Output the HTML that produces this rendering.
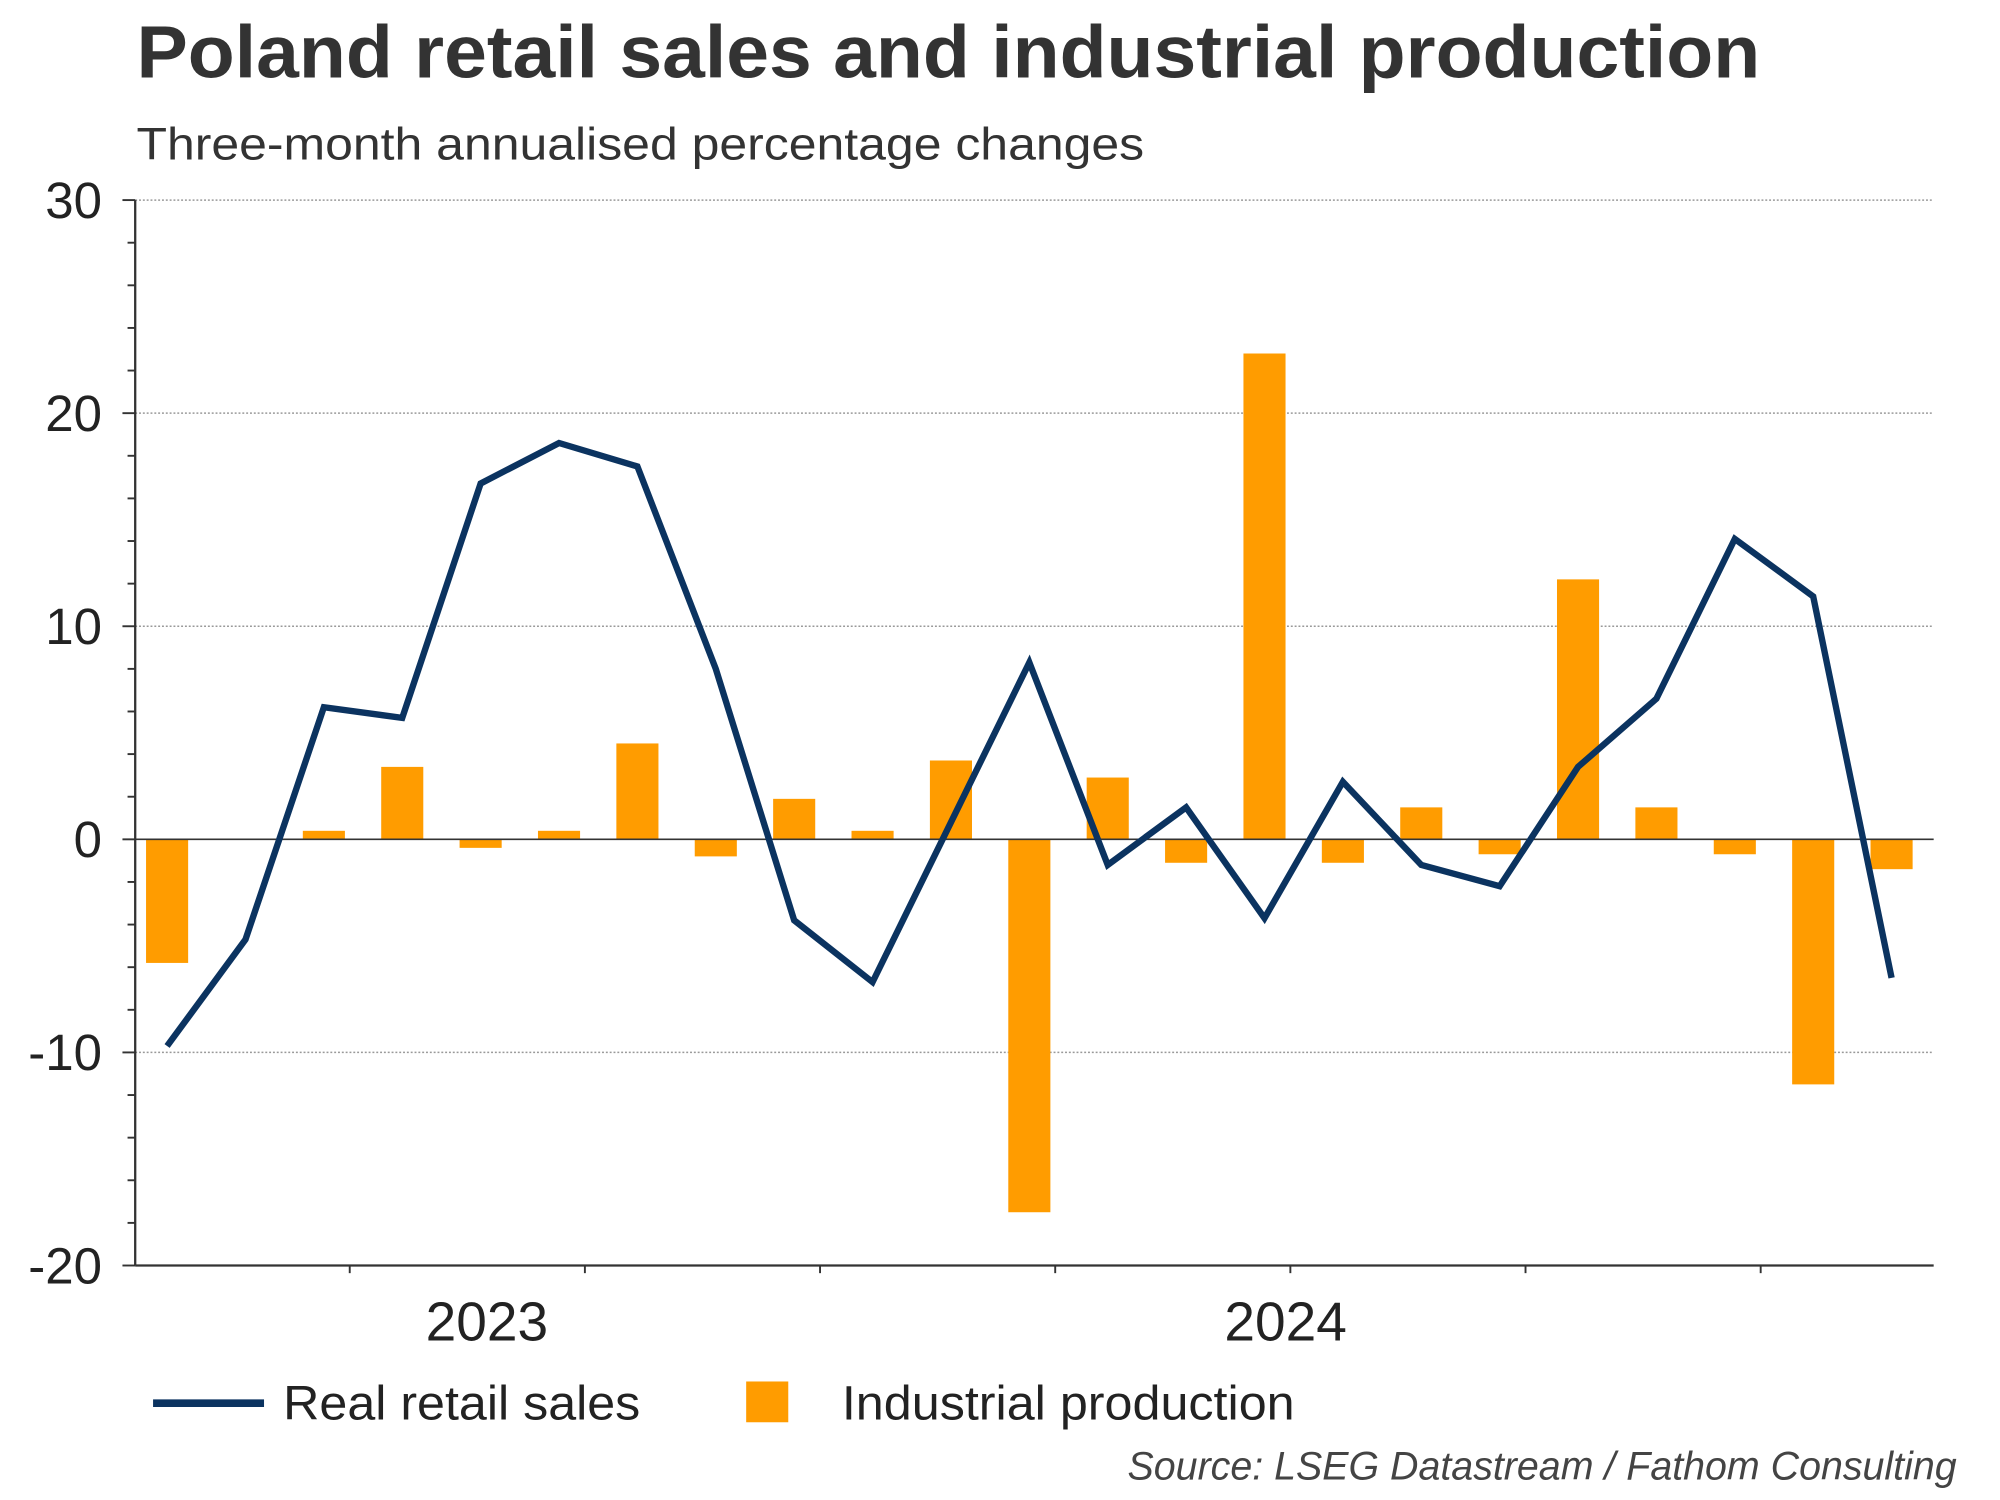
<!DOCTYPE html>
<html><head><meta charset="utf-8"><style>
html,body{margin:0;padding:0;background:#fff;}
svg{display:block;}
text{font-family:"Liberation Sans",Arial,sans-serif;}
</style></head>
<body>
<svg id="chart" width="2000" height="1500" viewBox="0 0 1568 1177" preserveAspectRatio="none" xmlns="http://www.w3.org/2000/svg">
<text x="107" y="61" font-size="58" font-weight="bold" fill="#333" textLength="1273" lengthAdjust="spacingAndGlyphs">Poland retail sales and industrial production</text>
<text x="107" y="125" font-size="36" fill="#333" textLength="790" lengthAdjust="spacingAndGlyphs">Three-month annualised percentage changes</text>
<g id="grid"></g>
<g id="bars"></g>
<g id="axes"></g>
<g id="lines"></g>
<g>
<line x1="120" y1="1101" x2="207" y2="1101" stroke="#0b3360" stroke-width="6"/>
<text x="222" y="1114" font-size="38" fill="#222" textLength="280" lengthAdjust="spacingAndGlyphs">Real retail sales</text>
<rect x="585" y="1084" width="33" height="32" fill="#ff9c00"/>
<text x="660" y="1114" font-size="38" fill="#222" textLength="355" lengthAdjust="spacingAndGlyphs">Industrial production</text>
</g>
<text x="884" y="1161" font-size="31" font-style="italic" fill="#444" textLength="650" lengthAdjust="spacingAndGlyphs">Source: LSEG Datastream / Fathom Consulting</text>
</svg>
<script>
const retailSales = [-9.7,-4.7,6.2,5.7,16.7,18.6,17.5,8.0,-3.8,-6.7,0.8,8.3,-1.2,1.5,-3.7,2.7,-1.2,-2.2,3.4,6.6,14.1,11.4,-6.5];
const industrialProduction = [-5.8,0,0.4,3.4,-0.4,0.4,4.5,-0.8,1.9,0.4,3.7,-17.5,2.9,-1.1,22.8,-1.1,1.5,-0.7,12.2,1.5,-0.7,-11.5,-1.4];
const yTicks = [30,20,10,0,-10,-20];
const yearLabels = ["2023","2024"];
const yearIndex = [4.08,14.27];

const NS="http://www.w3.org/2000/svg";
const X0=106,X1=1516,Y0=993,Y1=157,YMIN=-20,YMAX=30;
function y(v){return Y0-(v-YMIN)/(YMAX-YMIN)*(Y0-Y1);}
function x(i){return 131+i*(1483-131)/(retailSales.length-1);}
function mk(tag,attrs,parent){const e=document.createElementNS(NS,tag);for(const k in attrs)e.setAttribute(k,attrs[k]);parent.appendChild(e);return e;}
const grid=document.getElementById('grid'),bars=document.getElementById('bars'),axes=document.getElementById('axes'),lines=document.getElementById('lines');
yTicks.forEach(t=>{
  if(t!==0&&t!==YMIN){const g=mk('line',{x1:X0,x2:X1,y1:y(t),y2:y(t),stroke:'#999','stroke-width':1.2,'stroke-dasharray':'1.5 1.5'},grid);
  
  }
  const tl=mk('text',{x:80,y:y(t)+14,'font-size':40,fill:'#222','text-anchor':'end'},axes);
  tl.textContent=t;
  
  
});
for(let v=YMIN;v<=YMAX;v+=2){
  const major=v%10===0;
  const tk=mk('line',{x1:major?96:100,x2:X0,y1:y(v),y2:y(v),stroke:'#333','stroke-width':1.5},axes);
  
  
}
industrialProduction.forEach((v,i)=>{
  if(v===0)return;
  const r=mk('rect',{x:x(i)-16.5,y:Math.min(y(v),y(0)),width:33,height:Math.abs(y(v)-y(0)),fill:'#ff9c00'},bars);
  
  
});
const zl=mk('line',{x1:X0,x2:X1,y1:y(0),y2:y(0),stroke:'#333','stroke-width':1.3},axes);


const ya=mk('line',{x1:X0,x2:X0,y1:Y1,y2:Y0,stroke:'#333','stroke-width':1.8},axes);


const xa=mk('line',{x1:X0,x2:X1,y1:Y0,y2:Y0,stroke:'#333','stroke-width':1.8},axes);


for(let k=0;k<7;k++){
  const xt=x(2.33+3*k);
  const t=mk('line',{x1:xt,x2:xt,y1:Y0,y2:Y0+6,stroke:'#333','stroke-width':1.5},axes);
  
  
}
yearLabels.forEach((s,i)=>{
  const t=mk('text',{x:x(yearIndex[i]),y:1052,'font-size':43,fill:'#222','text-anchor':'middle',textLength:96,lengthAdjust:'spacingAndGlyphs'},axes);
  t.textContent=s;
  
  
});
const pl=mk('polyline',{points:retailSales.map((v,i)=>x(i)+','+y(v)).join(' '),fill:'none',stroke:'#0b3360','stroke-width':5,'stroke-linejoin':'miter'},lines);


</script>
</body></html>
